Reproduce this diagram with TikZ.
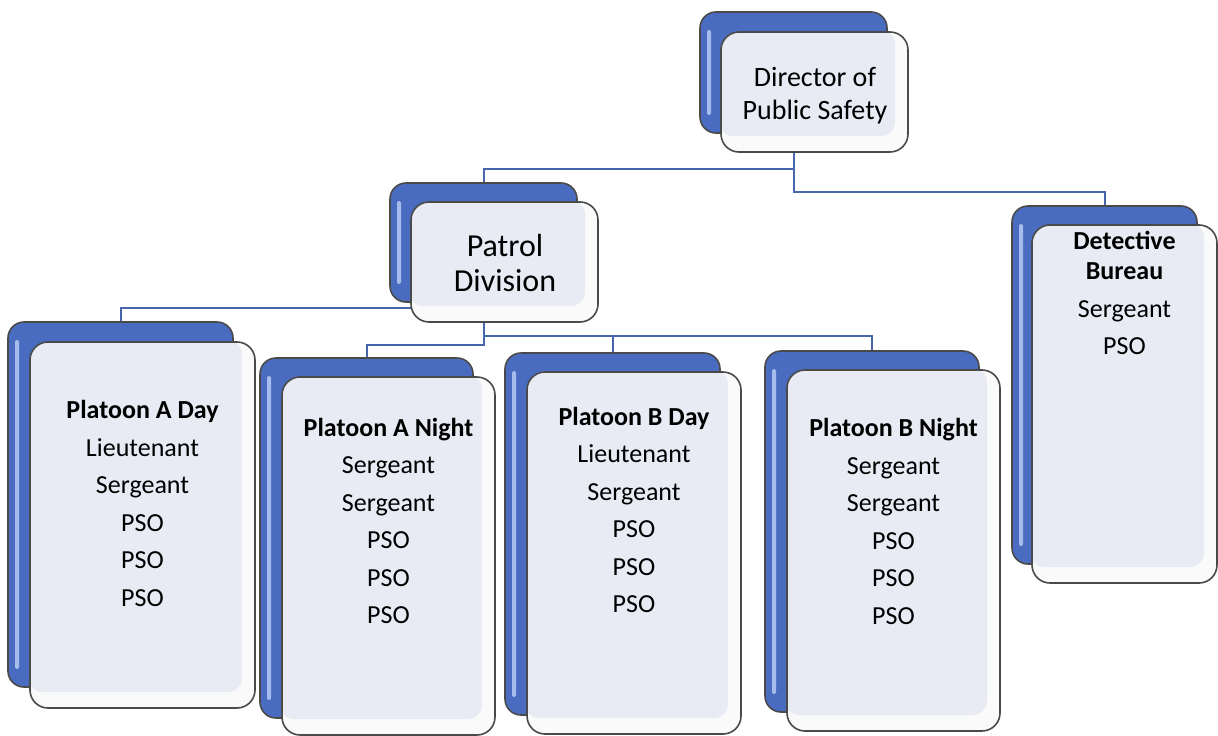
\documentclass[tikz,border=0pt]{standalone}
\usepackage{fontspec}
\setmainfont{Carlito}
\usetikzlibrary{backgrounds}
\definecolor{connc}{HTML}{4766AD}
\definecolor{edgec}{HTML}{4A4A4A}
\definecolor{backtop}{HTML}{4A6CC0}
\definecolor{backbot}{HTML}{3E5DAA}
\definecolor{hlc}{HTML}{A6BCEC}
\definecolor{frontin}{HTML}{E8EBF4}
\definecolor{frontout}{HTML}{FAFAFA}
\begin{document}
\begin{tikzpicture}[x=1pt,y=-1pt,
  conn/.style={draw=connc, line width=2pt},
  backbox/.style={draw=edgec, line width=1.6pt, rounded corners=16pt,
    fill=backtop, inner sep=0pt,
    path picture={\fill[hlc, rounded corners=2pt] ([xshift=7pt,yshift=-18pt]path picture bounding box.north west)
      rectangle ([xshift=11pt,yshift=18pt]path picture bounding box.south west);}},
  frontbox/.style={draw=edgec, line width=1.6pt, rounded corners=18pt,
    fill=frontout, inner sep=0pt,
    path picture={\fill[frontin, rounded corners=14pt] ([xshift=-2pt,yshift=2pt]path picture bounding box.north west)
      rectangle ([xshift=-13pt,yshift=16pt]path picture bounding box.south east);}},
  lbl/.style={align=center, inner sep=0pt, font=\fontsize{26}{37.5}\selectfont},
]
\useasboundingbox (0,0) rectangle (1218,736);

% Director
\node[backbox, minimum width=187pt, minimum height=121pt] (dirB) at (793.5,72.5) {};
\node[frontbox, minimum width=187pt, minimum height=120pt] (dir) at (814.5,92) {};
\node[align=center, inner sep=0pt, font=\fontsize{28}{33}\selectfont] (dirT) at (815,96) {Director of\\Public Safety};

% Patrol
\node[backbox, minimum width=187pt, minimum height=119pt] (patB) at (483.5,242.5) {};
\node[frontbox, minimum width=187pt, minimum height=120pt] (pat) at (504.5,262) {};
\node[align=center, inner sep=0pt, font=\fontsize{32}{35}\selectfont] (patT) at (505,263.5) {Patrol\\Division};

% Detective
\node[backbox, minimum width=185pt, minimum height=358pt] (detB) at (1104.5,385) {};
\node[frontbox, minimum width=185pt, minimum height=358pt] (det) at (1124.5,404) {};
\node[lbl] (detT) at (1124.5,293) {\textbf{Detective}\\[-7.5pt]\textbf{Bureau}\\Sergeant\\PSO};

% Platoon A Day
\node[backbox, minimum width=225pt, minimum height=365pt] (adayB) at (120.5,504.5) {};
\node[frontbox, minimum width=225pt, minimum height=366pt] (aday) at (142.5,525) {};
\node[lbl] (adayT) at (142.5,503.5) {\textbf{Platoon A Day}\\Lieutenant\\Sergeant\\PSO\\PSO\\PSO};

% Platoon A Night
\node[backbox, minimum width=213pt, minimum height=360pt] (anightB) at (366.5,538) {};
\node[frontbox, minimum width=213pt, minimum height=358pt] (anight) at (388.5,556) {};
\node[lbl] (anightT) at (388.5,521) {\textbf{Platoon A Night}\\Sergeant\\Sergeant\\PSO\\PSO\\PSO};

% Platoon B Day
\node[backbox, minimum width=215pt, minimum height=362pt] (bdayB) at (612.5,534) {};
\node[frontbox, minimum width=214pt, minimum height=362pt] (bday) at (634,553) {};
\node[lbl] (bdayT) at (634,510) {\textbf{Platoon B Day}\\Lieutenant\\Sergeant\\PSO\\PSO\\PSO};

% Platoon B Night
\node[backbox, minimum width=214pt, minimum height=361pt] (bnightB) at (872,531.5) {};
\node[frontbox, minimum width=213pt, minimum height=361pt] (bnight) at (893.5,550.5) {};
\node[lbl] (bnightT) at (893.5,521.5) {\textbf{Platoon B Night}\\Sergeant\\Sergeant\\PSO\\PSO\\PSO};

\begin{scope}[on background layer]
  \draw[conn] (dirB.south) -- ++(0,35) -| (patB.north);
  \draw[conn] (dirB.south) -- ++(0,58) -| (detB.north);
  \draw[conn] (patB.south) -- ++(0,5) -| (adayB.north);
  \draw[conn] (patB.south) -- ++(0,42) -| (anightB.north);
  \draw[conn] (patB.south) -- ++(0,33) -| (bdayB.north);
  \draw[conn] (patB.south) -- ++(0,33) -| (bnightB.north);
\end{scope}
\end{tikzpicture}
\end{document}
